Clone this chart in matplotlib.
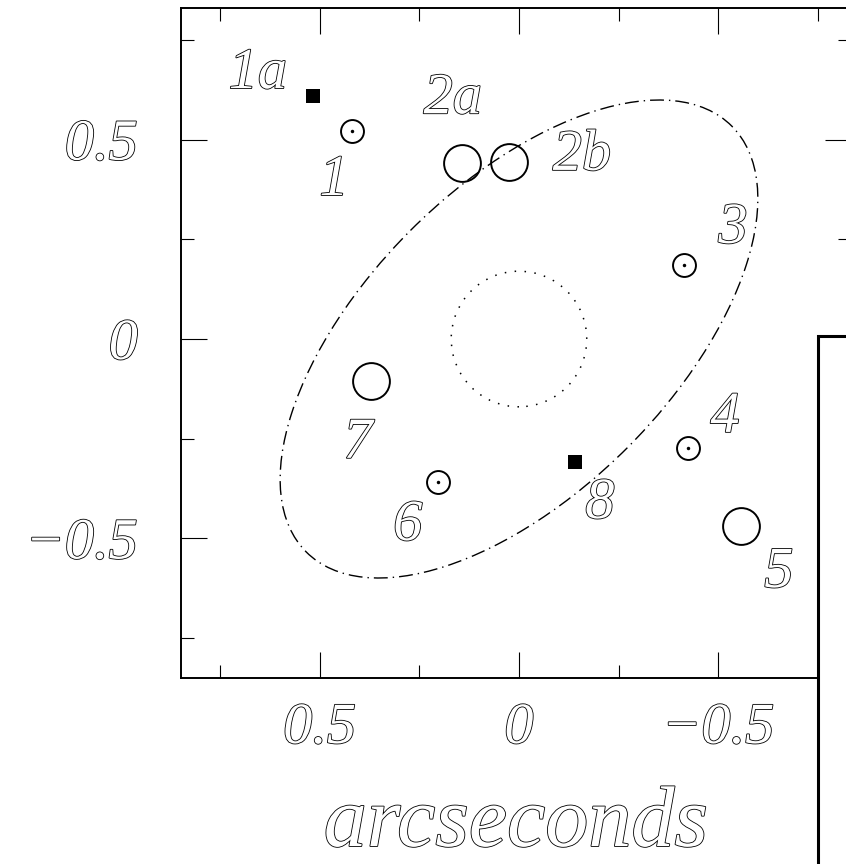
import matplotlib
matplotlib.use("Agg")
import matplotlib.pyplot as plt
import matplotlib.patches as patches
import matplotlib.patheffects as pe

# image positions, arcseconds (x grows to the left)
square_x = [0.517, -0.141]          # 1a, 8
square_y = [0.609, -0.308]
small_x = [0.420, -0.414, -0.424, 0.203]   # 1, 3, 4, 6
small_y = [0.521, 0.186, -0.273, -0.358]
big_x = [0.144, 0.024, -0.557, 0.371]      # 2a, 2b, 5, 7
big_y = [0.441, 0.445, -0.469, -0.105]

labels = ["1a", "1", "2a", "2b", "3", "4", "5", "6", "7", "8"]
label_x = [0.655, 0.464, 0.166, -0.158, -0.537, -0.517, -0.652, 0.279, 0.404, -0.203]
label_y = [0.629, 0.361, 0.566, 0.424, 0.241, -0.233, -0.622, -0.504, -0.298, -0.449]

# critical curve (ellipse) and inner circle
crit_a, crit_b, crit_angle = 0.755, 0.385, 135
inner_r = 0.17

major_ticks = [0.5, 0, -0.5]
tick_labels = ["0.5", "0", "\u22120.5"]
minor_ticks = [0.75, 0.25, -0.25, -0.75]

plt.rcParams['font.family'] = ['Liberation Serif', 'DejaVu Serif']
plt.rcParams['font.style'] = 'italic'

hollow = [pe.Stroke(linewidth=1.2, foreground='black'), pe.Normal()]

fig = plt.figure(figsize=(8.46, 8.64), dpi=100)
ax = fig.add_axes([181 / 846, 186 / 864, 670 / 846, 670 / 864])

ax.plot(square_x, square_y, 's', color='black', ms=10, mew=0)
ax.plot(small_x, small_y, 'o', mfc='none', mec='black', ms=16.5, mew=1.4)
ax.plot(small_x, small_y, 'o', color='black', ms=2.5, mew=0)
ax.plot(big_x, big_y, 'o', mfc='none', mec='black', ms=26.5, mew=1.4)

ax.add_patch(patches.Ellipse((0, 0), 2 * crit_a, 2 * crit_b, angle=crit_angle,
                             fill=False, color='black', lw=1,
                             linestyle=(0, (10, 3.6, 1, 3.6))))
ax.add_patch(patches.Circle((0, 0), inner_r, fill=False, color='black', lw=1.1,
                            linestyle=(0, (1, 5.5))))

for t, x, y in zip(labels, label_x, label_y):
    ax.text(x, y, t, fontsize=42, ha='center', va='baseline', color='white',
            path_effects=hollow)

ax.set_xlim(0.848, -0.833)
ax.set_ylim(-0.85, 0.83)

ax.set_xticks(major_ticks, tick_labels)
ax.set_yticks(major_ticks, tick_labels)
ax.set_xticks(minor_ticks, minor=True)
ax.set_yticks(minor_ticks, minor=True)
ax.tick_params(which='both', direction='in', top=True, right=True, width=0.8,
               labelsize=42, labelcolor='white')
ax.tick_params(which='major', length=18.7)
ax.tick_params(which='minor', length=9.4)
ax.tick_params(axis='x', pad=18)
ax.tick_params(axis='y', pad=31)
for lab in ax.get_xticklabels() + ax.get_yticklabels():
    lab.set_path_effects(hollow)
for s in ax.spines.values():
    s.set_linewidth(1.4)

ax.set_xlabel("arcseconds", fontsize=62, color='white', labelpad=22,
              path_effects=hollow)

# white panel overlapping the lower right corner
fig.add_artist(patches.Rectangle((818 / 846, -0.1), 0.2, 0.1 + 528 / 864,
                                 transform=fig.transFigure, facecolor='white',
                                 edgecolor='black', lw=2.2, zorder=10))

fig.savefig("out.png", dpi=100)
